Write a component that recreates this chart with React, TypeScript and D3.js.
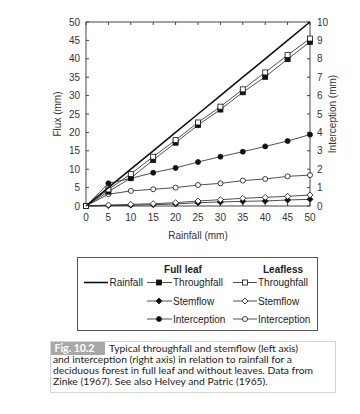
import React from "react";
import * as d3 from "d3";

const rainfall = [0, 5, 10, 15, 20, 25, 30, 35, 40, 45, 50];
const throughfallFull = [0, 3.9, 7.6, 12.5, 17.2, 22.0, 26.2, 30.9, 35.1, 39.9, 44.6];
const throughfallLeafless = [0, 4.5, 8.7, 13.4, 17.9, 22.7, 27.0, 31.7, 36.3, 41.0, 45.5];
const stemflowFull = [0, 0.1, 0.2, 0.35, 0.55, 0.9, 1.09, 1.27, 1.36, 1.63, 1.82];
const stemflowLeafless = [0, 0.27, 0.45, 0.63, 0.9, 1.36, 1.71, 2.09, 2.36, 2.63, 2.99];
const interceptionFull = [0, 1.23, 1.5, 1.81, 2.07, 2.39, 2.68, 2.95, 3.24, 3.53, 3.88];
const interceptionLeafless = [0, 0.64, 0.82, 0.91, 1.0, 1.14, 1.23, 1.38, 1.47, 1.61, 1.68];

const leftTicks = [0, 5, 10, 15, 20, 25, 30, 35, 40, 45, 50];
const rightTicks = [0, 1, 2, 3, 4, 5, 6, 7, 8, 9, 10];
const xTicks = [0, 5, 10, 15, 20, 25, 30, 35, 40, 45, 50];

const captionLines = [
  "Typical throughfall and stemflow (left axis)",
  "and interception (right axis) in relation to rainfall for a",
  "deciduous forest in full leaf and without leaves. Data from",
  "Zinke (1967). See also Helvey and Patric (1965).",
];

const L = 86, R = 310, T = 22, B = 206;
const FONT = "'Liberation Sans', Arial, Helvetica, sans-serif";
const CAPFONT = "Lato, 'Open Sans', sans-serif";
const AX = "#444";

function Marker({ kind, x, y }: { kind: string; x: number; y: number }) {
  const filled = kind.startsWith("f");
  const fill = filled ? "#111" : "#fff";
  const stroke = "#111";
  if (kind.endsWith("square")) {
    return <rect x={x - 2.5} y={y - 2.5} width={5} height={5} fill={fill} stroke={stroke} strokeWidth={0.8} />;
  }
  if (kind.endsWith("diamond")) {
    const s = 3;
    return <path d={`M${x},${y - s}L${x + s},${y}L${x},${y + s}L${x - s},${y}Z`} fill={fill} stroke={stroke} strokeWidth={0.8} />;
  }
  return <circle cx={x} cy={y} r={2.5} fill={fill} stroke={stroke} strokeWidth={0.8} />;
}

export default function App() {
  const x = d3.scaleLinear().domain([0, 50]).range([L, R]);
  const yL = d3.scaleLinear().domain([0, 50]).range([B, T]);
  const yR = d3.scaleLinear().domain([0, 10]).range([B, T]);

  const series = [
    { vals: interceptionLeafless, scale: yR, kind: "ocircle" },
    { vals: interceptionFull, scale: yR, kind: "fcircle" },
    { vals: stemflowFull, scale: yL, kind: "fdiamond" },
    { vals: stemflowLeafless, scale: yL, kind: "odiamond" },
    { vals: throughfallFull, scale: yL, kind: "fsquare" },
    { vals: throughfallLeafless, scale: yL, kind: "osquare" },
  ];

  const rainLine = d3.line<number>().x((d) => x(d)).y((d) => yL(d))(rainfall) || "";

  const legRows = [286, 304.5, 322.5];

  return (
    <svg width={360} height={414} style={{ position: "absolute", left: 0, top: 0, background: "#fff" }} fontFamily={FONT}>
      <rect x={0} y={0} width={360} height={414} fill="#fff" />
      {/* axes frame */}
      <line x1={L} x2={L} y1={T} y2={B} stroke={AX} strokeWidth={1} />
      <line x1={R} x2={R} y1={T} y2={B} stroke={AX} strokeWidth={1} />
      <line x1={L} x2={R} y1={T} y2={T} stroke={AX} strokeWidth={1} />
      <line x1={L} x2={R} y1={B} y2={B} stroke={AX} strokeWidth={1} />
      {leftTicks.map((t) => (
        <g key={"l" + t}>
          <line x1={L} x2={L + 3} y1={yL(t)} y2={yL(t)} stroke={AX} />
          <text x={L - 6} y={yL(t) + 3.6} fontSize={10} textAnchor="end" fill="#333">{t}</text>
        </g>
      ))}
      {rightTicks.map((t) => (
        <g key={"r" + t}>
          <line x1={R} x2={R - 3} y1={yR(t)} y2={yR(t)} stroke={AX} />
          <text x={R + 7} y={yR(t) + 3.6} fontSize={10} textAnchor="start" fill="#333">{t}</text>
        </g>
      ))}
      {xTicks.map((t) => (
        <g key={"x" + t}>
          <line x1={x(t)} x2={x(t)} y1={B} y2={B - 3} stroke={AX} />
          <line x1={x(t)} x2={x(t)} y1={T} y2={T + 3} stroke={AX} />
          <text x={x(t)} y={B + 15} fontSize={10} textAnchor="middle" fill="#333">{t}</text>
        </g>
      ))}
      <text x={(L + R) / 2} y={239} fontSize={10} textAnchor="middle" fill="#333">Rainfall (mm)</text>
      <text transform={`translate(60.5,${(T + B) / 2}) rotate(-90)`} fontSize={10} textAnchor="middle" fill="#333">Flux (mm)</text>
      <text transform={`translate(335.5,${(T + B) / 2}) rotate(-90)`} fontSize={10} textAnchor="middle" fill="#333">Interception (mm)</text>

      {/* series */}
      {series.map((s, i) => {
        const path = d3.line<number>().x((_, j) => x(rainfall[j])).y((d) => s.scale(d))(s.vals) || "";
        return (
          <g key={"s" + i}>
            <path d={path} fill="none" stroke="#222" strokeWidth={0.8} />
            {s.vals.map((v, j) => (
              <Marker key={j} kind={s.kind} x={x(rainfall[j])} y={s.scale(v)} />
            ))}
          </g>
        );
      })}
      <path d={rainLine} fill="none" stroke="#111" strokeWidth={1.6} />

      {/* legend */}
      <rect x={77.5} y={257.5} width={240} height={73} fill="none" stroke="#555" strokeWidth={1} />
      <text x={183} y={273} fontSize={10} fontWeight="bold" textAnchor="middle" fill="#222">Full leaf</text>
      <text x={283} y={273} fontSize={10} fontWeight="bold" textAnchor="middle" fill="#222">Leafless</text>
      <line x1={84} x2={108} y1={legRows[0] - 3.5} y2={legRows[0] - 3.5} stroke="#111" strokeWidth={1.6} />
      <text x={109.5} y={legRows[0]} fontSize={10} fill="#222">Rainfall</text>
      {[
        ["fsquare", "osquare", "Throughfall"],
        ["fdiamond", "odiamond", "Stemflow"],
        ["fcircle", "ocircle", "Interception"],
      ].map((r, i) => (
        <g key={"lg" + i}>
          <line x1={147} x2={172} y1={legRows[i] - 3.5} y2={legRows[i] - 3.5} stroke="#222" strokeWidth={0.8} />
          <Marker kind={r[0]} x={159} y={legRows[i] - 3.5} />
          <text x={173} y={legRows[i]} fontSize={10} fill="#222">{r[2]}</text>
          <line x1={233} x2={257} y1={legRows[i] - 3.5} y2={legRows[i] - 3.5} stroke="#222" strokeWidth={0.8} />
          <Marker kind={r[1]} x={245} y={legRows[i] - 3.5} />
          <text x={258} y={legRows[i]} fontSize={10} fill="#222">{r[2]}</text>
        </g>
      ))}

      {/* caption */}
      <rect x={50.5} y={341.5} width={285} height={51} fill="none" stroke="#d4d4d4" strokeWidth={1} />
      <rect x={51} y={342} width={54} height={13} fill="#a8a8a8" />
      <text x={54.5} y={352.3} fontSize={10.5} fontWeight="bold" fill="#fff" fontFamily={CAPFONT}>Fig. 10.2</text>
      {captionLines.map((t, i) => (
        <text key={"c" + i} x={i === 0 ? 109 : 53} y={352 + i * 11} fontSize={10.3} fill="#222" fontFamily={CAPFONT}>{t}</text>
      ))}
    </svg>
  );
}
